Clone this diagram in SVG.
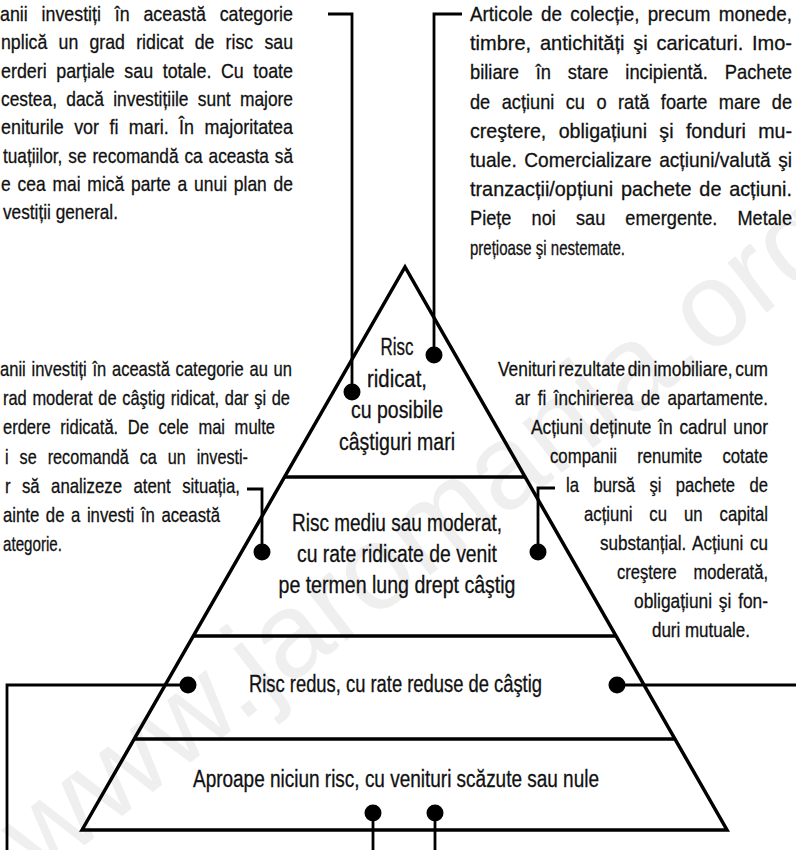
<svg xmlns="http://www.w3.org/2000/svg" width="796" height="850" viewBox="0 0 796 850">
<style>
.b{font-family:"Liberation Sans",Arial,sans-serif;font-size:21px;fill:#111;stroke:#111;stroke-width:0.3}
.l{font-family:"Liberation Sans",Arial,sans-serif;font-size:23px;fill:#111;stroke:#111;stroke-width:0.3}
.wm{font-family:"Liberation Sans",Arial,sans-serif;font-size:120px;fill:#efefef}
.pyr{fill:none;stroke:#000;stroke-width:3.5}
.con{fill:none;stroke:#000;stroke-width:2.8}
.dot{fill:#000}
</style>
<rect width="796" height="850" fill="#fff"/>
<text class="wm" transform="translate(40,880) rotate(-38)">www.jaromania.org</text>

<g id="pyramid">
<path class="pyr" d="M82,830 L405,267 L727,830 Z"/>
<path class="pyr" d="M284.5,477 H525 M193.3,636 H616 M134.2,739 H675"/>
</g>

<g id="tier-high">
<text class="l" x="380.5" y="355" textLength="33" lengthAdjust="spacingAndGlyphs">Risc</text>
<text class="l" x="367" y="386.5" textLength="60" lengthAdjust="spacingAndGlyphs">ridicat,</text>
<text class="l" x="351" y="418" textLength="92" lengthAdjust="spacingAndGlyphs">cu posibile</text>
<text class="l" x="339" y="449.5" textLength="116" lengthAdjust="spacingAndGlyphs">câştiguri mari</text>
</g>
<g id="tier-medium">
<text class="l" x="292" y="531" textLength="210" lengthAdjust="spacingAndGlyphs">Risc mediu sau moderat,</text>
<text class="l" x="297" y="562" textLength="200" lengthAdjust="spacingAndGlyphs">cu rate ridicate de venit</text>
<text class="l" x="278.5" y="593" textLength="237" lengthAdjust="spacingAndGlyphs">pe termen lung drept câştig</text>
</g>
<g id="tier-low">
<text class="l" x="249" y="692" textLength="293" lengthAdjust="spacingAndGlyphs">Risc redus, cu rate reduse de câştig</text>
</g>
<g id="tier-none">
<text class="l" x="193" y="787" textLength="406" lengthAdjust="spacingAndGlyphs">Aproape niciun risc, cu venituri scăzute sau nule</text>
</g>

<g id="text-top-left">
<text class="b" x="0" y="21" word-spacing="10.4" textLength="293" lengthAdjust="spacingAndGlyphs">anii investiți în această categorie</text>
<text class="b" x="1" y="49.3" word-spacing="7.4" textLength="292" lengthAdjust="spacingAndGlyphs">nplică un grad ridicat de risc sau</text>
<text class="b" x="1" y="77.6" word-spacing="5.4" textLength="292" lengthAdjust="spacingAndGlyphs">erderi parțiale sau totale. Cu toate</text>
<text class="b" x="1" y="105.9" word-spacing="5.4" textLength="292" lengthAdjust="spacingAndGlyphs">cestea, dacă investițiile sunt majore</text>
<text class="b" x="1" y="134.2" word-spacing="6.4" textLength="292" lengthAdjust="spacingAndGlyphs">eniturile vor fi mari. În majoritatea</text>
<text class="b" x="3" y="162.5" word-spacing="1.4" textLength="290" lengthAdjust="spacingAndGlyphs">tuațiilor, se recomandă ca aceasta să</text>
<text class="b" x="1" y="190.8" word-spacing="2.4" textLength="292" lengthAdjust="spacingAndGlyphs">e cea mai mică parte a unui plan de</text>
<text class="b" x="3" y="219" textLength="115" lengthAdjust="spacingAndGlyphs">vestiții general.</text>
</g>

<g id="text-top-right">
<text class="b" x="470" y="21" word-spacing="3.4" textLength="322" lengthAdjust="spacingAndGlyphs">Articole de colecție, precum monede,</text>
<text class="b" x="470" y="50.2" word-spacing="3.4" textLength="322" lengthAdjust="spacingAndGlyphs">timbre, antichități şi caricaturi. Imo-</text>
<text class="b" x="470" y="79.4" word-spacing="13.4" textLength="322" lengthAdjust="spacingAndGlyphs">biliare în stare incipientă. Pachete</text>
<text class="b" x="470" y="108.6" word-spacing="7.4" textLength="322" lengthAdjust="spacingAndGlyphs">de acțiuni cu o rată foarte mare de</text>
<text class="b" x="470" y="137.8" word-spacing="7.4" textLength="322" lengthAdjust="spacingAndGlyphs">creştere, obligațiuni şi fonduri mu-</text>
<text class="b" x="470" y="167" word-spacing="2.4" textLength="322" lengthAdjust="spacingAndGlyphs">tuale. Comercializare acțiuni/valută şi</text>
<text class="b" x="470" y="196.2" word-spacing="2.4" textLength="322" lengthAdjust="spacingAndGlyphs">tranzacții/opțiuni pachete de acțiuni.</text>
<text class="b" x="470" y="225.4" word-spacing="17.4" textLength="322" lengthAdjust="spacingAndGlyphs">Piețe noi sau emergente. Metale</text>
<text class="b" x="470" y="254.6" textLength="155" lengthAdjust="spacingAndGlyphs">prețioase şi nestemate.</text>
</g>

<g id="text-mid-left">
<text class="b" x="0" y="376" word-spacing="1.4" textLength="292" lengthAdjust="spacingAndGlyphs">anii investiți în această categorie au un</text>
<text class="b" x="3" y="405.2" word-spacing="1.4" textLength="287" lengthAdjust="spacingAndGlyphs">rad moderat de câştig ridicat, dar şi de</text>
<text class="b" x="3" y="434.4" word-spacing="6.4" textLength="272" lengthAdjust="spacingAndGlyphs">erdere ridicată. De cele mai multe</text>
<text class="b" x="5" y="463.6" word-spacing="8.4" textLength="243" lengthAdjust="spacingAndGlyphs">i se recomandă ca un investi-</text>
<text class="b" x="5" y="492.8" word-spacing="8.4" textLength="235" lengthAdjust="spacingAndGlyphs">r să analizeze atent situația,</text>
<text class="b" x="3" y="522" word-spacing="2.4" textLength="217" lengthAdjust="spacingAndGlyphs">ainte de a investi în această</text>
<text class="b" x="3" y="551.2" textLength="59" lengthAdjust="spacingAndGlyphs">ategorie.</text>
</g>

<g id="text-mid-right">
<text class="b" x="498" y="376" word-spacing="-2.6" textLength="270" lengthAdjust="spacingAndGlyphs">Venituri rezultate din imobiliare, cum</text>
<text class="b" x="515" y="405" word-spacing="3.4" textLength="253" lengthAdjust="spacingAndGlyphs">ar fi închirierea de apartamente.</text>
<text class="b" x="531" y="434" word-spacing="2.4" textLength="237" lengthAdjust="spacingAndGlyphs">Acțiuni deținute în cadrul unor</text>
<text class="b" x="550" y="463" word-spacing="19.4" textLength="218" lengthAdjust="spacingAndGlyphs">companii renumite cotate</text>
<text class="b" x="566" y="492" word-spacing="12.4" textLength="202" lengthAdjust="spacingAndGlyphs">la bursă şi pachete de</text>
<text class="b" x="584" y="521" word-spacing="15.4" textLength="184" lengthAdjust="spacingAndGlyphs">acțiuni cu un capital</text>
<text class="b" x="600" y="550" word-spacing="2.4" textLength="168" lengthAdjust="spacingAndGlyphs">substanțial. Acțiuni cu</text>
<text class="b" x="617" y="579" word-spacing="15.4" textLength="151" lengthAdjust="spacingAndGlyphs">creştere moderată,</text>
<text class="b" x="634" y="608" word-spacing="2.4" textLength="134" lengthAdjust="spacingAndGlyphs">obligațiuni şi fon-</text>
<text class="b" x="652" y="637" textLength="98" lengthAdjust="spacingAndGlyphs">duri mutuale.</text>
</g>

<g id="connectors">
<path class="con" d="M328,14 H352 V392"/>
<path class="con" d="M462,14 H434 V355"/>
<path class="con" d="M247,489 H262 V552"/>
<path class="con" d="M555,488 H538 V552"/>
<path class="con" d="M188,685 H7 V850"/>
<path class="con" d="M617,685 H796"/>
<path class="con" d="M373,813 V850"/>
<path class="con" d="M435,813 V850"/>
<circle class="dot" cx="352" cy="392" r="8.5"/>
<circle class="dot" cx="434" cy="355" r="8.5"/>
<circle class="dot" cx="262" cy="552" r="8.5"/>
<circle class="dot" cx="538" cy="552" r="8.5"/>
<circle class="dot" cx="188" cy="685" r="8.5"/>
<circle class="dot" cx="617" cy="685" r="8.5"/>
<circle class="dot" cx="373" cy="813" r="8.5"/>
<circle class="dot" cx="435" cy="813" r="8.5"/>
</g>
</svg>
